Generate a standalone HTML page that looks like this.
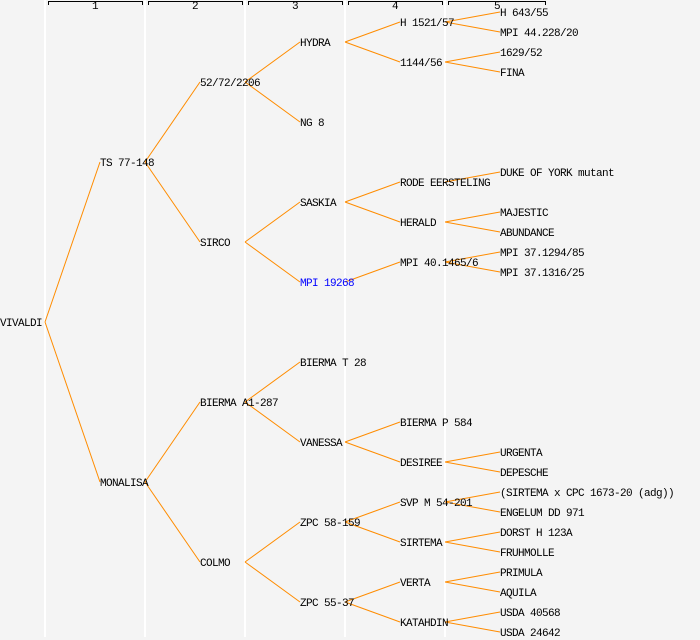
<!DOCTYPE html>
<html><head><meta charset="utf-8"><style>
html,body{margin:0;padding:0;background:#f4f4f4;}
svg{display:block;}
text{font-family:"Liberation Mono","DejaVu Sans Mono",monospace;font-size:11px;letter-spacing:-0.6px;fill:#000;}
</style></head><body>
<svg width="700" height="640" xmlns="http://www.w3.org/2000/svg">
<rect width="700" height="640" fill="#f4f4f4"/>
<g stroke="#fff" stroke-width="2">
<line x1="45" y1="0" x2="45" y2="637"/>
<line x1="145" y1="0" x2="145" y2="637"/>
<line x1="245" y1="0" x2="245" y2="637"/>
<line x1="345" y1="0" x2="345" y2="637"/>
<line x1="445" y1="0" x2="445" y2="637"/>
</g>
<g stroke="#000" stroke-width="1" fill="none">
<path d="M48.5 5V1.5H142.5V5"/>
<path d="M148.5 5V1.5H242.5V5"/>
<path d="M248.5 5V1.5H342.5V5"/>
<path d="M348.5 5V1.5H442.5V5"/>
<path d="M448.5 5V1.5H545.5V5"/>
</g>
<g style="font-size:8px;letter-spacing:0" text-anchor="middle">
<text x="95" y="9">1</text><text x="195" y="9">2</text><text x="295" y="9">3</text><text x="395" y="9">4</text><text x="497" y="9">5</text>
</g>
<g stroke="#ff8c00" stroke-width="1" fill="none">
<path d="M45 322L100 162M45 322L100 482"/>
<path d="M145 162L200 82M145 162L200 242M145 482L200 402M145 482L200 562"/>
<path d="M245 82L300 42M245 82L300 122M245 242L300 202M245 242L300 282M245 402L300 362M245 402L300 442M245 562L300 522M245 562L300 602"/>
<path d="M345 42L400 22M345 42L400 62M345 202L400 182M345 202L400 222M345 282L400 262M345 442L400 422M345 442L400 462M345 522L400 502M345 522L400 542M345 602L400 582M345 602L400 622"/>
<path d="M445 22L500 12M445 22L500 32M445 62L500 52M445 62L500 72M445 182L500 172M445 222L500 212M445 222L500 232M445 262L500 252M445 262L500 272M445 462L500 452M445 462L500 472M445 502L500 492M445 502L500 512M445 542L500 532M445 542L500 552M445 582L500 572M445 582L500 592M445 622L500 612M445 622L500 632"/>
</g>
<g>
<text x="0" y="326">VIVALDI</text>
<text x="100" y="166">TS 77-148</text>
<text x="100" y="486">MONALISA</text>
<text x="200" y="86">52/72/2206</text>
<text x="200" y="246">SIRCO</text>
<text x="200" y="406">BIERMA A1-287</text>
<text x="200" y="566">COLMO</text>
<text x="300" y="46">HYDRA</text>
<text x="300" y="126">NG 8</text>
<text x="300" y="206">SASKIA</text>
<text x="300" y="286" style="fill:#0000ff">MPI 19268</text>
<text x="300" y="366">BIERMA T 28</text>
<text x="300" y="446">VANESSA</text>
<text x="300" y="526">ZPC 58-159</text>
<text x="300" y="606">ZPC 55-37</text>
<text x="400" y="26">H 1521/57</text>
<text x="400" y="66">1144/56</text>
<text x="400" y="186">RODE EERSTELING</text>
<text x="400" y="226">HERALD</text>
<text x="400" y="266">MPI 40.1465/6</text>
<text x="400" y="426">BIERMA P 584</text>
<text x="400" y="466">DESIREE</text>
<text x="400" y="506">SVP M 54-201</text>
<text x="400" y="546">SIRTEMA</text>
<text x="400" y="586">VERTA</text>
<text x="400" y="626">KATAHDIN</text>
<text x="500" y="16">H 643/55</text>
<text x="500" y="36">MPI 44.228/20</text>
<text x="500" y="56">1629/52</text>
<text x="500" y="76">FINA</text>
<text x="500" y="176">DUKE OF YORK mutant</text>
<text x="500" y="216">MAJESTIC</text>
<text x="500" y="236">ABUNDANCE</text>
<text x="500" y="256">MPI 37.1294/85</text>
<text x="500" y="276">MPI 37.1316/25</text>
<text x="500" y="456">URGENTA</text>
<text x="500" y="476">DEPESCHE</text>
<text x="500" y="496">(SIRTEMA x CPC 1673-20 (adg))</text>
<text x="500" y="516">ENGELUM DD 971</text>
<text x="500" y="536">DORST H 123A</text>
<text x="500" y="556">FRUHMOLLE</text>
<text x="500" y="576">PRIMULA</text>
<text x="500" y="596">AQUILA</text>
<text x="500" y="616">USDA 40568</text>
<text x="500" y="636">USDA 24642</text>
</g>
</svg>
</body></html>
